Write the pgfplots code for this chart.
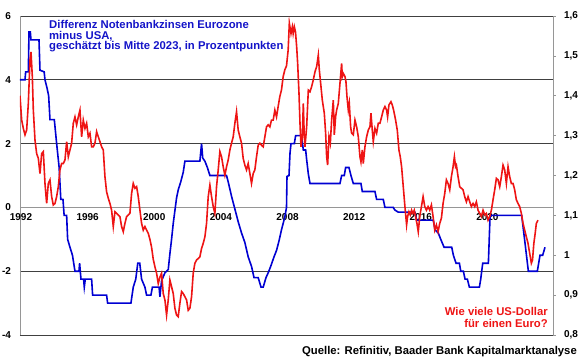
\documentclass[border=0pt]{standalone}
\usepackage{pgfplots}
\pgfplotsset{compat=1.18}
\usepackage{fontspec}
\setmainfont{Liberation Sans}
\definecolor{myblue}{RGB}{0,0,210}
\definecolor{myred}{RGB}{238,20,20}
\definecolor{titleblue}{RGB}{20,20,200}
\definecolor{axgray}{RGB}{150,150,150}

\begin{document}
\begin{tikzpicture}
\pgfplotsset{every axis/.append style={scale only axis, width=533pt, height=319pt, xmin=1992, xmax=2024,
  tick label style={font=\bfseries\fontsize{10}{12}\selectfont}}}

\begin{axis}[
  at={(0pt,0pt)}, anchor=south west,
  ymin=-4, ymax=6,
  axis x line*=middle, axis y line*=left,
  hide obscured x ticks=false, hide obscured y ticks=false,
  x axis line style={axgray, line width=1.2pt},
  y axis line style={axgray, line width=0.8pt},
  xtick={1992,1996,2000,2004,2008,2012,2016,2020},
  xticklabels={1992,1996,2000,2004,2008,2012,2016,2020},
  xtick style={draw=none},
  xticklabel style={yshift=-3pt, xshift=1pt},
  ytick={-4,-2,2,4,6}, yticklabels={-4,-2,2,4,6},
  extra y ticks={0}, extra y tick labels={0},
  extra y tick style={grid=none, ytick style={draw=none}},
  ymajorgrids, grid style={black!75, line width=0.7pt},
  ytick style={draw=none},
  yticklabel style={xshift=-5.5pt},
]
\addplot[myblue, line width=1.6pt] coordinates {
(1992.00,4.00) (1992.30,4.00) (1992.34,4.25) (1992.50,4.25) (1992.54,5.50) (1992.62,5.50)
(1992.66,5.25) (1993.14,5.25) (1993.20,4.30) (1993.45,4.25) (1993.50,4.00) (1993.62,3.75)
(1993.72,3.50) (1993.80,2.75) (1994.06,2.75) (1994.20,2.00) (1994.35,1.25) (1994.45,0.25)
(1994.58,0.25) (1994.65,-0.25) (1994.80,-0.25) (1994.86,-1.00) (1995.00,-1.25) (1995.15,-1.50)
(1995.30,-2.00) (1995.54,-2.00) (1995.58,-1.75) (1995.66,-2.25) (1995.82,-2.25) (1995.86,-2.50)
(1995.92,-2.25) (1996.30,-2.25) (1996.36,-2.75) (1997.20,-2.75) (1997.26,-3.00) (1998.66,-3.00)
(1998.80,-2.50) (1998.95,-2.25) (1999.07,-1.75) (1999.19,-1.75) (1999.30,-2.25) (1999.50,-2.50)
(1999.60,-2.75) (1999.86,-2.75) (1999.95,-2.50) (2000.35,-2.50) (2000.40,-2.80) (2000.50,-2.30)
(2000.70,-2.05) (2000.90,-1.95) (2001.00,-1.45) (2001.10,-1.00) (2001.20,-0.50) (2001.30,-0.10)
(2001.40,0.30) (2001.50,0.55) (2001.65,0.80) (2001.80,1.10) (2001.90,1.45) (2002.80,1.45)
(2002.90,2.00) (2002.97,1.55) (2003.10,1.45) (2003.25,1.25) (2003.40,1.00) (2004.40,1.00)
(2004.50,0.80) (2004.70,0.35) (2004.90,-0.05) (2005.10,-0.45) (2005.30,-0.80) (2005.50,-1.10)
(2005.70,-1.55) (2005.90,-1.85) (2006.05,-2.20) (2006.30,-2.20) (2006.47,-2.50) (2006.60,-2.50)
(2006.77,-2.20) (2006.90,-2.05) (2007.05,-1.85) (2007.25,-1.55) (2007.40,-1.35) (2007.55,-1.05)
(2007.70,-0.70) (2007.90,-0.30) (2008.00,0.00) (2008.03,0.97) (2008.15,1.00) (2008.21,1.70)
(2008.27,2.00) (2008.47,2.00) (2008.55,2.25) (2008.90,2.25) (2009.01,1.80) (2009.15,1.80)
(2009.21,1.50) (2009.31,1.05) (2009.41,0.75) (2011.21,0.75) (2011.31,1.00) (2011.47,1.00)
(2011.55,1.25) (2011.75,1.25) (2011.87,1.00) (2012.01,0.75) (2012.47,0.75) (2012.55,0.50)
(2013.31,0.50) (2013.41,0.25) (2013.81,0.25) (2013.91,0.00) (2014.41,0.00) (2014.50,-0.08)
(2014.71,-0.15) (2015.71,-0.15) (2015.81,-0.40) (2016.81,-0.40) (2016.92,-0.70) (2017.11,-0.80)
(2017.26,-1.00) (2017.46,-1.25) (2017.92,-1.25) (2018.02,-1.50) (2018.18,-1.75) (2018.38,-1.75)
(2018.46,-2.00) (2018.62,-2.00) (2018.72,-2.25) (2018.86,-2.25) (2018.98,-2.50) (2019.58,-2.50)
(2019.66,-2.25) (2019.78,-1.75) (2020.12,-1.75) (2020.22,-0.28) (2020.32,-0.25) (2022.12,-0.25)
(2022.32,-1.12) (2022.52,-2.00) (2023.06,-2.00) (2023.22,-1.50) (2023.38,-1.50) (2023.52,-1.25)
};
\end{axis}

\begin{axis}[
  at={(0pt,0pt)}, anchor=south west,
  ymin=0.8, ymax=1.6,
  axis x line=none, axis y line*=right,
  y axis line style={axgray, line width=0.8pt},
  ytick={0.8,0.9,1.0,1.1,1.2,1.3,1.4,1.5,1.6},
  yticklabels={{0,8},{0,9},{1},{1,1},{1,2},{1,3},{1,4},{1,5},{1,6}},
  tick align=outside, major tick length=2.5pt,
  ytick style={axgray, line width=0.6pt},
  yticklabel style={xshift=5pt},
]
\addplot[myred, line width=1.6pt] coordinates {
(1992.0,1.400) (1992.1,1.339) (1992.2,1.318) (1992.3,1.302) (1992.4,1.314) (1992.5,1.381)
(1992.6,1.490) (1992.66,1.510) (1992.74,1.448) (1992.8,1.364) (1992.9,1.289) (1993.0,1.255)
(1993.1,1.243) (1993.2,1.205) (1993.3,1.255) (1993.4,1.260) (1993.5,1.180) (1993.6,1.130)
(1993.7,1.180) (1993.8,1.189) (1993.9,1.147) (1994.0,1.126) (1994.1,1.130) (1994.2,1.147)
(1994.3,1.172) (1994.4,1.214) (1994.5,1.230) (1994.6,1.230) (1994.7,1.239) (1994.8,1.285)
(1994.9,1.247) (1995.0,1.264) (1995.1,1.281) (1995.2,1.331) (1995.3,1.347) (1995.4,1.327)
(1995.5,1.347) (1995.6,1.364) (1995.7,1.297) (1995.8,1.339) (1995.9,1.318) (1996.0,1.331)
(1996.1,1.297) (1996.2,1.306) (1996.3,1.272) (1996.4,1.272) (1996.5,1.281) (1996.6,1.310)
(1996.7,1.297) (1996.8,1.285) (1996.9,1.272) (1997.0,1.264) (1997.1,1.197) (1997.2,1.159)
(1997.3,1.143) (1997.4,1.130) (1997.5,1.113) (1997.6,1.072) (1997.7,1.109) (1997.8,1.105)
(1997.9,1.101) (1998.0,1.097) (1998.1,1.072) (1998.2,1.059) (1998.3,1.080) (1998.4,1.097)
(1998.5,1.101) (1998.6,1.105) (1998.7,1.155) (1998.8,1.180) (1998.9,1.168) (1999.0,1.172)
(1999.1,1.147) (1999.2,1.113) (1999.3,1.080) (1999.4,1.063) (1999.5,1.072) (1999.6,1.063)
(1999.7,1.055) (1999.8,1.040) (1999.9,1.020) (2000.0,0.990) (2000.1,0.971) (2000.2,0.955)
(2000.3,0.929) (2000.4,0.945) (2000.5,0.955) (2000.6,0.904) (2000.7,0.888) (2000.8,0.850)
(2000.9,0.888) (2001.0,0.938) (2001.1,0.921) (2001.2,0.904) (2001.3,0.867) (2001.4,0.850)
(2001.5,0.846) (2001.6,0.880) (2001.7,0.909) (2001.8,0.904) (2001.9,0.896) (2002.0,0.888)
(2002.1,0.862) (2002.2,0.867) (2002.3,0.896) (2002.4,0.955) (2002.5,0.980) (2002.6,0.988)
(2002.7,0.992) (2002.8,0.996) (2002.9,1.017) (2003.0,1.030) (2003.1,1.046) (2003.2,1.080)
(2003.3,1.147) (2003.4,1.176) (2003.5,1.147) (2003.6,1.122) (2003.7,1.105) (2003.8,1.172)
(2003.9,1.214) (2004.0,1.260) (2004.1,1.247) (2004.2,1.222) (2004.3,1.201) (2004.4,1.222)
(2004.5,1.239) (2004.6,1.264) (2004.7,1.281) (2004.8,1.297) (2004.9,1.331) (2005.0,1.360)
(2005.1,1.314) (2005.2,1.297) (2005.3,1.281) (2005.4,1.243) (2005.5,1.226) (2005.6,1.214)
(2005.7,1.230) (2005.8,1.205) (2005.9,1.180) (2006.0,1.205) (2006.1,1.214) (2006.2,1.247)
(2006.3,1.276) (2006.4,1.281) (2006.5,1.276) (2006.6,1.272) (2006.7,1.297) (2006.8,1.322)
(2006.9,1.327) (2007.0,1.322) (2007.1,1.339) (2007.2,1.339) (2007.3,1.364) (2007.4,1.347)
(2007.5,1.373) (2007.6,1.398) (2007.7,1.415) (2007.8,1.448) (2007.9,1.465) (2008.0,1.475)
(2008.1,1.515) (2008.17,1.582) (2008.27,1.556) (2008.35,1.573) (2008.4,1.556) (2008.47,1.573)
(2008.54,1.560) (2008.61,1.523) (2008.67,1.481) (2008.75,1.406) (2008.81,1.331) (2008.87,1.272)
(2008.95,1.297) (2009.01,1.381) (2009.06,1.306) (2009.11,1.272) (2009.16,1.297) (2009.21,1.322)
(2009.31,1.414) (2009.41,1.410) (2009.51,1.423) (2009.61,1.440) (2009.71,1.460) (2009.81,1.473)
(2009.91,1.502) (2009.97,1.465) (2010.07,1.423) (2010.15,1.389) (2010.27,1.356) (2010.35,1.306)
(2010.41,1.247) (2010.47,1.226) (2010.55,1.297) (2010.63,1.281) (2010.71,1.339) (2010.81,1.389)
(2010.87,1.302) (2010.95,1.348) (2011.01,1.364) (2011.11,1.381) (2011.21,1.431) (2011.31,1.481)
(2011.35,1.448) (2011.41,1.456) (2011.51,1.448) (2011.57,1.435) (2011.63,1.398) (2011.71,1.364)
(2011.77,1.381) (2011.85,1.322) (2011.91,1.306) (2012.01,1.302) (2012.11,1.339) (2012.21,1.322)
(2012.31,1.297) (2012.41,1.247) (2012.47,1.234) (2012.55,1.264) (2012.61,1.230) (2012.71,1.272)
(2012.81,1.297) (2012.91,1.314) (2013.01,1.322) (2013.07,1.356) (2013.15,1.314) (2013.21,1.285)
(2013.31,1.318) (2013.41,1.306) (2013.51,1.331) (2013.61,1.331) (2013.71,1.347) (2013.81,1.364)
(2013.91,1.373) (2014.01,1.364) (2014.07,1.347) (2014.15,1.377) (2014.27,1.385) (2014.35,1.377)
(2014.43,1.364) (2014.55,1.339) (2014.65,1.314) (2014.75,1.264) (2014.83,1.247) (2014.91,1.222)
(2015.01,1.172) (2015.11,1.122) (2015.21,1.076) (2015.27,1.097) (2015.35,1.109) (2015.43,1.101)
(2015.51,1.113) (2015.59,1.105) (2015.67,1.113) (2015.75,1.097) (2015.83,1.080) (2015.91,1.059)
(2016.0,1.097) (2016.1,1.122) (2016.2,1.147) (2016.3,1.122) (2016.4,1.113) (2016.5,1.122)
(2016.6,1.113) (2016.7,1.126) (2016.8,1.097) (2016.9,1.063) (2017.0,1.076) (2017.1,1.059)
(2017.2,1.080) (2017.3,1.093) (2017.4,1.130) (2017.5,1.155) (2017.6,1.189) (2017.7,1.180)
(2017.8,1.164) (2017.9,1.197) (2018.0,1.222) (2018.08,1.247) (2018.15,1.222) (2018.2,1.226)
(2018.3,1.197) (2018.4,1.172) (2018.5,1.168) (2018.6,1.164) (2018.7,1.147) (2018.8,1.134)
(2018.9,1.147) (2019.0,1.134) (2019.1,1.122) (2019.2,1.130) (2019.3,1.122) (2019.4,1.134)
(2019.5,1.113) (2019.6,1.105) (2019.7,1.097) (2019.8,1.113) (2019.9,1.101) (2020.0,1.105)
(2020.1,1.088) (2020.2,1.097) (2020.3,1.113) (2020.4,1.139) (2020.5,1.164) (2020.6,1.193)
(2020.7,1.189) (2020.8,1.172) (2020.9,1.197) (2021.0,1.226) (2021.1,1.214) (2021.2,1.180)
(2021.3,1.222) (2021.4,1.197) (2021.5,1.180) (2021.6,1.180) (2021.7,1.164) (2021.8,1.139)
(2021.9,1.130) (2022.0,1.122) (2022.1,1.105) (2022.2,1.080) (2022.3,1.063) (2022.4,1.046)
(2022.5,1.030) (2022.6,1.005) (2022.7,0.980) (2022.77,0.988) (2022.85,1.030) (2022.93,1.055)
(2023.0,1.080) (2023.1,1.088)
};
\end{axis}

\begin{scope}[every node/.style={inner sep=0pt, font=\bfseries\fontsize{11.3}{12}\selectfont}]
\node[anchor=base west, text=titleblue] at (29pt,306pt) {Differenz Notenbankzinsen Eurozone};
\node[anchor=base west, text=titleblue] at (29pt,295.5pt) {minus USA,};
\node[anchor=base west, text=titleblue] at (29pt,285pt) {geschätzt bis Mitte 2023, in Prozentpunkten};
\node[anchor=base east, text=myred] at (528pt,19.5pt) {Wie viele US-Dollar};
\node[anchor=base east, text=myred] at (528pt,7.5pt) {für einen Euro?};
\node[anchor=base east, text=black] at (557pt,-19pt) {Quelle: Refinitiv, Baader Bank Kapitalmarktanalyse};
\end{scope}

\pgfresetboundingbox
\path[use as bounding box] (-20pt,-24pt) rectangle (560pt,335pt);
\end{tikzpicture}
\end{document}
